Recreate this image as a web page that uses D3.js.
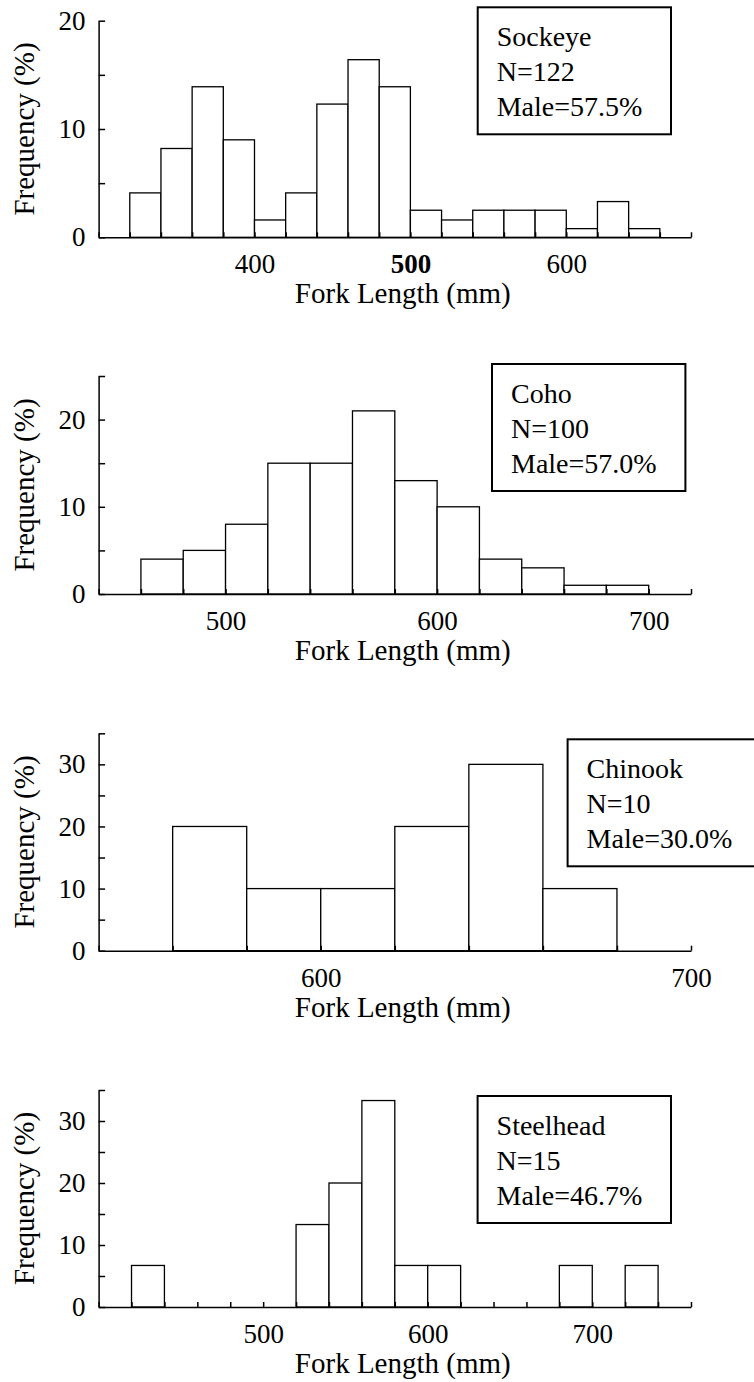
<!DOCTYPE html>
<html>
<head>
<meta charset="utf-8">
<script src="https://cdn.jsdelivr.net/npm/d3@7"></script>
<style>
    body { margin: 0; background: #fff; }
    svg text { font-family: "Liberation Serif", Tinos, "Times New Roman", Times, "DejaVu Serif", serif; fill: #000; }
</style>
</head>
<body>
<svg id="chart"></svg>
<script>
// bin starts (mm, 20 mm wide) and frequency (%) per species
const sockeyeBins = [320, 340, 360, 380, 400, 420, 440, 460, 480, 500, 520, 540, 560, 580, 600, 620, 640]
const sockeyeFreq = [4.1, 8.2, 13.9, 9.0, 1.6, 4.1, 12.3, 16.4, 13.9, 2.5, 1.6, 2.5, 2.5, 2.5, 0.8, 3.3, 0.8]

const cohoBins = [460, 480, 500, 520, 540, 560, 580, 600, 620, 640, 660, 680]
const cohoFreq = [4, 5, 8, 15, 15, 21, 13, 10, 4, 3, 1, 1]

const chinookBins = [560, 580, 600, 620, 640, 660]
const chinookFreq = [20, 10, 10, 20, 30, 10]

const steelheadBins = [420, 520, 540, 560, 580, 600, 680, 720]
const steelheadFreq = [6.7, 13.3, 20, 33.3, 6.7, 6.7, 6.7, 6.7]

// tick labels shown on each x axis
const sockeyeXLabels = [400, 500, 600]
const cohoXLabels = [500, 600, 700]
const chinookXLabels = [600, 700]
const steelheadXLabels = [500, 600, 700]

// legend texts
const sockeyeLegend = ['Sockeye', 'N=122', 'Male=57.5%']
const cohoLegend = ['Coho', 'N=100', 'Male=57.0%']
const chinookLegend = ['Chinook', 'N=10', 'Male=30.0%']
const steelheadLegend = ['Steelhead', 'N=15', 'Male=46.7%']

const BIN_WIDTH = 20
const SERIF = '"Liberation Serif", Tinos, "Times New Roman", Times, "DejaVu Serif", serif'

class Histogram {
    constructor(_svg, _bins, _freq, _config) {
        this.svg = _svg
        this.bins = _bins
        this.freq = _freq
        this.config = {
            left: 98.6,
            right: 691,
            top: _config.top,
            bottom: _config.bottom,
            xDomain: _config.xDomain,
            yMax: _config.yMax,
            xLabels: _config.xLabels,
            boldLabels: _config.boldLabels || [],
            legend: _config.legend,
            legendBox: _config.legendBox,
        }
        this.initVis()
    }

    initVis() {
        let vis = this

        vis.g = vis.svg.append('g')

        vis.xScale = d3.scaleLinear()
            .domain(vis.config.xDomain)
            .range([vis.config.left, vis.config.right])

        vis.yScale = d3.scaleLinear()
            .domain([0, vis.config.yMax])
            .range([vis.config.bottom, vis.config.top])

        vis.renderVis()
        vis.renderXAxis()
        vis.renderYAxis()
        vis.renderLegend()
    }

    renderXAxis() {
        let vis = this
        const [x0, x1] = vis.config.xDomain

        vis.xAxis = d3.axisBottom(vis.xScale)
            .tickValues(d3.range(x0, x1 + 1, BIN_WIDTH))
            .tickSizeInner(-5)
            .tickSizeOuter(0)
            .tickPadding(17)
            .tickFormat(d => vis.config.xLabels.includes(d) ? d : '')

        vis.xAxisG = vis.g.append('g')
            .attr('transform', `translate(0, ${vis.config.bottom})`)
            .call(vis.xAxis)
            .attr('font-family', null)

        vis.xAxisG.selectAll('path, line').attr('stroke', '#000').attr('stroke-width', 1.5)
        vis.xAxisG.selectAll('text')
            .style('font-size', '27px')
            .style('font-family', SERIF)
            .style('font-weight', d => vis.config.boldLabels.includes(d) ? 'bold' : 'normal')

        vis.g.append('text')
            .text('Fork Length (mm)')
            .attr('x', (vis.config.left + vis.config.right) / 2 + 8)
            .attr('y', vis.config.bottom + 66)
            .style('text-anchor', 'middle')
            .style('font-family', SERIF)
            .style('font-size', '29px')
    }

    renderYAxis() {
        let vis = this

        vis.yAxis = d3.axisLeft(vis.yScale)
            .tickValues(d3.range(0, vis.config.yMax + 1, 5))
            .tickSizeInner(-6.5)
            .tickSizeOuter(0)
            .tickPadding(13)
            .tickFormat(d => d % 10 === 0 ? d : '')

        vis.yAxisG = vis.g.append('g')
            .attr('transform', `translate(${vis.config.left}, 0)`)
            .call(vis.yAxis)
            .attr('font-family', null)

        vis.yAxisG.selectAll('path, line').attr('stroke', '#000').attr('stroke-width', 1.5)
        vis.yAxisG.selectAll('text')
            .style('font-size', '27px')
            .style('font-family', SERIF)

        const mid = (vis.config.top + vis.config.bottom) / 2
        vis.g.append('text')
            .text('Frequency (%)')
            .attr('transform', `translate(34, ${mid}) rotate(-90)`)
            .style('text-anchor', 'middle')
            .style('font-family', SERIF)
            .style('font-size', '29px')
    }

    renderVis() {
        let vis = this
        const rows = vis.bins.map((b, i) => ({bin: b, value: vis.freq[i]}))

        vis.g.selectAll('.bar')
            .data(rows)
            .join('rect')
            .attr('class', 'bar')
            .attr('x', d => vis.xScale(d.bin))
            .attr('width', d => vis.xScale(d.bin + BIN_WIDTH) - vis.xScale(d.bin))
            .attr('y', d => vis.yScale(d.value))
            .attr('height', d => vis.yScale(0) - vis.yScale(d.value))
            .attr('fill', '#fff')
            .attr('stroke', '#000')
            .attr('stroke-width', 1.3)
    }

    renderLegend() {
        let vis = this
        const box = vis.config.legendBox

        vis.g.append('rect')
            .attr('x', box.x)
            .attr('y', box.y)
            .attr('width', box.width)
            .attr('height', 127)
            .attr('fill', '#fff')
            .attr('stroke', '#000')
            .attr('stroke-width', 2)

        vis.g.selectAll('.legend-line')
            .data(vis.config.legend)
            .join('text')
            .attr('class', 'legend-line')
            .attr('x', box.x + 19)
            .attr('y', (d, i) => box.y + 39 + i * 35)
            .text(d => d)
            .style('font-family', SERIF)
            .style('font-size', '28px')
    }
}

const svg = d3.select('#chart')
    .attr('width', 754)
    .attr('height', 1382)

new Histogram(svg, sockeyeBins, sockeyeFreq, {
    top: 20.7, bottom: 237.3, xDomain: [300, 680], yMax: 20,
    xLabels: sockeyeXLabels, boldLabels: [500], legend: sockeyeLegend,
    legendBox: {x: 477.7, y: 7.3, width: 193.3}
})
new Histogram(svg, cohoBins, cohoFreq, {
    top: 376, bottom: 594, xDomain: [440, 720], yMax: 25,
    xLabels: cohoXLabels, legend: cohoLegend,
    legendBox: {x: 492, y: 364, width: 193.4}
})
new Histogram(svg, chinookBins, chinookFreq, {
    top: 733.3, bottom: 950.7, xDomain: [540, 700], yMax: 35,
    xLabels: chinookXLabels, legend: chinookLegend,
    legendBox: {x: 567.6, y: 739.3, width: 200}
})
new Histogram(svg, steelheadBins, steelheadFreq, {
    top: 1090, bottom: 1307, xDomain: [400, 760], yMax: 35,
    xLabels: steelheadXLabels, legend: steelheadLegend,
    legendBox: {x: 477.6, y: 1096, width: 193.4}
})
</script>
</body>
</html>
